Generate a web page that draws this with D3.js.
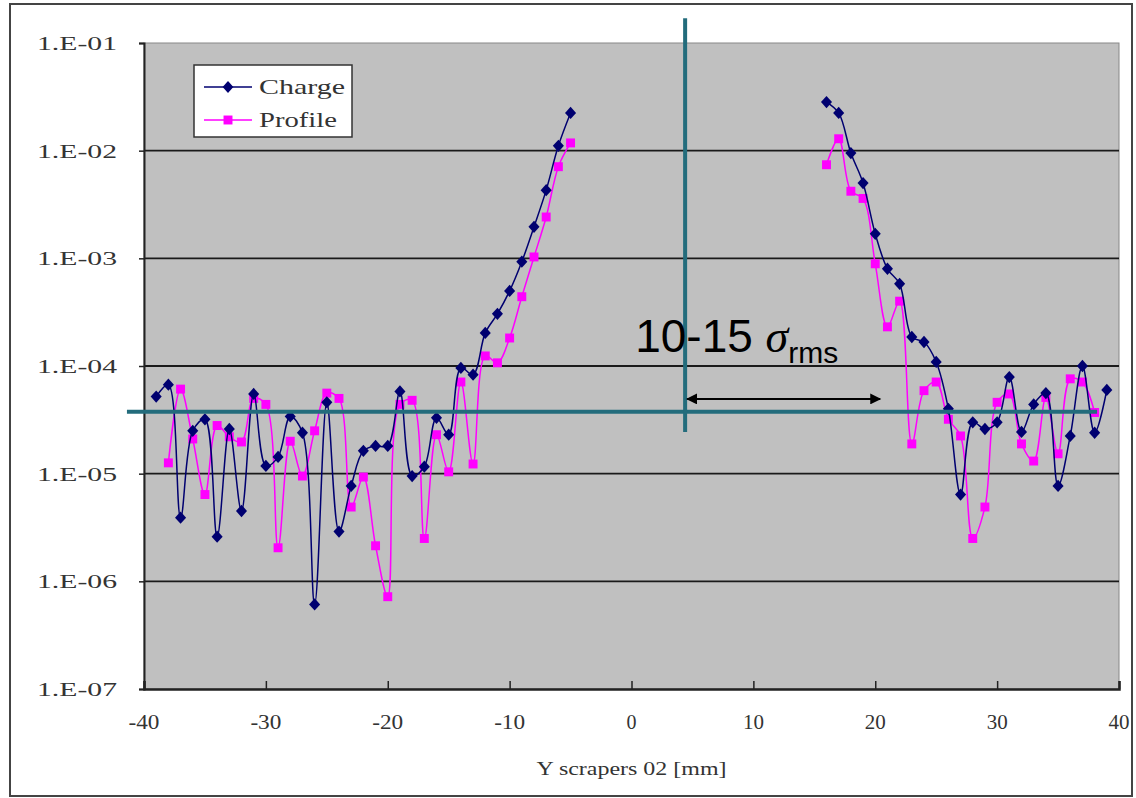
<!DOCTYPE html>
<html lang="en">
<head>
  <meta charset="utf-8" />
  <title>Y scrapers 02 - Charge / Profile</title>
  <script src="https://d3js.org/d3.v7.min.js"></script>
  <style>
    body { margin: 0; background: #fff; }
    .lab { font-family: "Liberation Serif", "DejaVu Serif", serif; fill: #333; }
  </style>
</head>
<body>
<svg width="1136" height="798"></svg>
<script>
// ---- data ----
var chargeLeftX  = [-39,-38,-37,-36,-35,-34,-33,-32,-31,-30,-29,-28,-27,-26,-25,-24,-23,-22,-21,-20,-19,-18,-17,-16,-15,-14,-13,-12,-11,-10,-9,-8,-7,-6,-5];
var chargeLeft   = [5.2e-5,6.7e-5,3.9e-6,2.5e-5,3.2e-5,2.6e-6,2.6e-5,4.5e-6,5.5e-5,1.18e-5,1.43e-5,3.4e-5,2.4e-5,6.1e-7,4.6e-5,2.9e-6,7.7e-6,1.63e-5,1.81e-5,1.81e-5,5.8e-5,9.5e-6,1.16e-5,3.3e-5,2.3e-5,9.6e-5,8.3e-5,2.03e-4,3.05e-4,4.98e-4,9.3e-4,1.96e-3,4.3e-3,1.11e-2,2.24e-2];
var chargeRightX = [16,17,18,19,20,21,22,23,24,25,26,27,28,29,30,31,32,33,34,35,36,37,38,39];
var chargeRight  = [2.83e-2,2.24e-2,9.5e-3,5.0e-3,1.69e-3,8.0e-4,5.8e-4,1.86e-4,1.67e-4,1.09e-4,4.0e-5,6.4e-6,3.0e-5,2.6e-5,3.0e-5,7.9e-5,2.44e-5,4.4e-5,5.6e-5,7.7e-6,2.24e-5,1.0e-4,2.4e-5,6.0e-5];

var profileLeftX  = [-38,-37,-36,-35,-34,-33,-32,-31,-30,-29,-28,-27,-26,-25,-24,-23,-22,-21,-20,-19,-18,-17,-16,-15,-14,-13,-12,-11,-10,-9,-8,-7,-6,-5];
var profileLeft   = [1.26e-5,6.1e-5,2.1e-5,6.4e-6,2.8e-5,2.2e-5,1.97e-5,5.0e-5,4.4e-5,2.05e-6,2.0e-5,9.5e-6,2.5e-5,5.6e-5,5.0e-5,4.9e-6,9.3e-6,2.14e-6,7.2e-7,4.4e-5,4.8e-5,2.5e-6,2.3e-5,1.04e-5,7.1e-5,1.23e-5,1.24e-4,1.07e-4,1.82e-4,4.4e-4,1.03e-3,2.42e-3,7.1e-3,1.18e-2];
var profileRightX = [16,17,18,19,20,21,22,23,24,25,26,27,28,29,30,31,32,33,34,35,36,37,38];
var profileRight  = [7.4e-3,1.29e-2,4.2e-3,3.6e-3,8.9e-4,2.31e-4,4.0e-4,1.89e-5,5.9e-5,7.1e-5,3.2e-5,2.24e-5,2.5e-6,4.9e-6,4.6e-5,5.5e-5,1.89e-5,1.31e-5,5.1e-5,1.53e-5,7.6e-5,7.1e-5,3.7e-5];

var xTicks = [-40,-30,-20,-10,0,10,20,30,40];
var yTicks = [1e-1,1e-2,1e-3,1e-4,1e-5,1e-6,1e-7];
var yTickLabels = ["1.E-01","1.E-02","1.E-03","1.E-04","1.E-05","1.E-06","1.E-07"];
var seriesNames = ["Charge","Profile"];

// annotation (in data units)
var floorLevel = 3.75e-5;          // teal horizontal line
var floorRange = [-41.4, 38.2];
var edgeX = 4.4;                   // teal vertical line
var edgeRange = [2.44e-5, 0.17];
var arrowRange = [4.4, 20.4];
var arrowLevel = 4.95e-5;

// ---- layout ----
var svg = d3.select("svg");
var plotLeft = 144, plotRight = 1119, plotTop = 43, plotBottom = 689;
var navy = "#000070", magenta = "#ff00ff", teal = "#236c7c";

var x = d3.scaleLinear().domain([-40, 40]).range([plotLeft, plotRight]);
var y = d3.scaleLog().domain([1e-7, 1e-1]).range([plotBottom, plotTop]);

// outer frame
svg.append("rect")
  .attr("x", 10).attr("y", 4).attr("width", 1122).attr("height", 792)
  .attr("fill", "#fff").attr("stroke", "#444").attr("stroke-width", 2);

// plot area
svg.append("rect")
  .attr("x", plotLeft).attr("y", plotTop)
  .attr("width", plotRight - plotLeft).attr("height", plotBottom - plotTop)
  .attr("fill", "#c0c0c0").attr("stroke", "#888").attr("stroke-width", 1);

// gridlines
svg.append("g").selectAll("line")
  .data(yTicks.slice(1, -1))
  .enter().append("line")
  .attr("x1", plotLeft).attr("x2", plotRight)
  .attr("y1", function(d){ return y(d); })
  .attr("y2", function(d){ return y(d); })
  .attr("stroke", "#1a1a1a").attr("stroke-width", 1.8);

// axes
var yAxis = svg.append("g")
  .attr("transform", "translate(" + plotLeft + ",0)")
  .call(d3.axisLeft(y).tickValues(yTicks).tickSize(5).tickFormat(""));
yAxis.selectAll("line").attr("stroke", "#222").attr("stroke-width", 1.5);
yAxis.select(".domain").attr("stroke", "#222").attr("stroke-width", 2);

var xAxis = svg.append("g")
  .attr("transform", "translate(0," + plotBottom + ")")
  .call(d3.axisTop(x).tickValues(xTicks).tickSize(8).tickFormat(""));
xAxis.selectAll("line").attr("stroke", "#222").attr("stroke-width", 1.5);
xAxis.select(".domain").attr("stroke", "#222").attr("stroke-width", 2.5);

// tick labels
svg.append("g").selectAll("text")
  .data(yTicks)
  .enter().append("text")
  .attr("class", "lab")
  .attr("x", 117)
  .attr("y", function(d){ return y(d) + 7; })
  .attr("text-anchor", "end")
  .attr("font-size", 19)
  .attr("textLength", 80).attr("lengthAdjust", "spacingAndGlyphs")
  .text(function(d, i){ return yTickLabels[i]; });

svg.append("g").selectAll("text")
  .data(xTicks)
  .enter().append("text")
  .attr("class", "lab")
  .attr("x", function(d){ return x(d); })
  .attr("y", 729)
  .attr("text-anchor", "middle")
  .attr("font-size", 20)
  .attr("textLength", function(d){ return d < 0 ? 31 : (d === 0 ? 10 : 21); })
  .attr("lengthAdjust", "spacingAndGlyphs")
  .text(function(d){ return d; });

svg.append("text")
  .attr("class", "lab")
  .attr("x", (plotLeft + plotRight) / 2)
  .attr("y", 775)
  .attr("text-anchor", "middle")
  .attr("font-size", 19)
  .attr("textLength", 190).attr("lengthAdjust", "spacingAndGlyphs")
  .text("Y scrapers 02 [mm]");

// series
function pts(xs, vs){ return xs.map(function(d, i){ return [d, vs[i]]; }); }
var line = d3.line()
  .x(function(d){ return x(d[0]); })
  .y(function(d){ return y(d[1]); })
  .curve(d3.curveCatmullRom.alpha(0.5));

var profileSegs = [pts(profileLeftX, profileLeft), pts(profileRightX, profileRight)];
var chargeSegs = [pts(chargeLeftX, chargeLeft), pts(chargeRightX, chargeRight)];

function drawSeries(segs, color, shape, size){
  var g = svg.append("g");
  g.selectAll("path.l").data(segs).enter().append("path")
    .attr("d", line).attr("fill", "none")
    .attr("stroke", color).attr("stroke-width", 1.5);
  var all = [].concat.apply([], segs);
  g.selectAll("path.m").data(all).enter().append("path")
    .attr("transform", function(d){ return "translate(" + x(d[0]) + "," + y(d[1]) + ")"; })
    .attr("d", d3.symbol().type(shape).size(size))
    .attr("fill", color);
}

function diamond(ctx, size){
  var r = Math.sqrt(size) / 1.5;
  ctx.moveTo(0, -r); ctx.lineTo(r * 0.9, 0); ctx.lineTo(0, r); ctx.lineTo(-r * 0.9, 0); ctx.closePath();
}
var diamondType = { draw: diamond };

drawSeries(profileSegs, magenta, d3.symbolSquare, 80);
drawSeries(chargeSegs, navy, diamondType, 85);

// legend
var lg = svg.append("g");
lg.append("rect")
  .attr("x", 194).attr("y", 65).attr("width", 158).attr("height", 72)
  .attr("fill", "#fff").attr("stroke", "#333").attr("stroke-width", 1.5);
var legendItems = [
  { name: seriesNames[0], color: navy, shape: diamondType, yy: 87 },
  { name: seriesNames[1], color: magenta, shape: d3.symbolSquare, yy: 120 }
];
legendItems.forEach(function(it){
  lg.append("line").attr("x1", 204).attr("x2", 252)
    .attr("y1", it.yy).attr("y2", it.yy)
    .attr("stroke", it.color).attr("stroke-width", 1.4);
  lg.append("path")
    .attr("transform", "translate(228," + it.yy + ")")
    .attr("d", d3.symbol().type(it.shape).size(80))
    .attr("fill", it.color);
  lg.append("text").attr("class", "lab")
    .attr("x", 259).attr("y", it.yy + 7)
    .attr("font-size", 21).attr("fill", "#222")
    .attr("textLength", it.name === "Charge" ? 86 : 78).attr("lengthAdjust", "spacingAndGlyphs")
    .text(it.name);
});

// annotation: teal lines
svg.append("line")
  .attr("x1", x(floorRange[0])).attr("x2", x(floorRange[1]))
  .attr("y1", y(floorLevel)).attr("y2", y(floorLevel))
  .attr("stroke", teal).attr("stroke-width", 4);
svg.append("line")
  .attr("x1", x(edgeX)).attr("x2", x(edgeX))
  .attr("y1", y(edgeRange[0])).attr("y2", y(edgeRange[1]))
  .attr("stroke", teal).attr("stroke-width", 4);

// double arrow
var defs = svg.append("defs");
defs.append("marker").attr("id", "ah")
  .attr("viewBox", "0 0 10 10").attr("refX", 9).attr("refY", 5)
  .attr("markerWidth", 7).attr("markerHeight", 5.5)
  .attr("markerUnits", "strokeWidth")
  .attr("orient", "auto-start-reverse")
  .append("path").attr("d", "M0,0 L10,5 L0,10 z").attr("fill", "#000");
svg.append("line")
  .attr("x1", x(arrowRange[0]) + 2).attr("x2", x(arrowRange[1]))
  .attr("y1", y(arrowLevel)).attr("y2", y(arrowLevel))
  .attr("stroke", "#000").attr("stroke-width", 2)
  .attr("marker-start", "url(#ah)").attr("marker-end", "url(#ah)");

// annotation text
var ann = svg.append("text")
  .attr("x", x(0.3)).attr("y", y(1.35e-4))
  .attr("font-family", "Liberation Sans, Arial, sans-serif")
  .attr("font-size", 46).attr("fill", "#000");
ann.append("tspan").text("10-15 ");
ann.append("tspan").attr("font-family", "Liberation Serif, serif")
  .attr("font-style", "italic").text("σ");
ann.append("tspan").attr("font-size", 30).attr("dy", 11).text("rms");
</script>
</body>
</html>
